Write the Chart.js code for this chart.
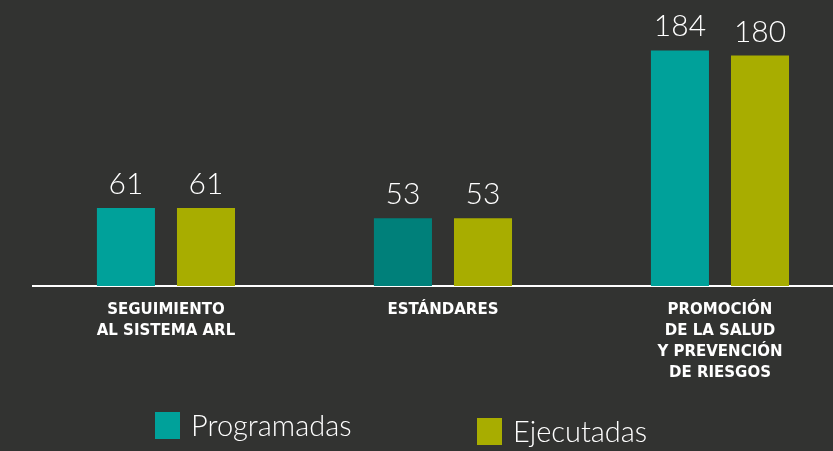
<!DOCTYPE html>
<html>
<head>
<meta charset="utf-8">
<script src="https://cdn.jsdelivr.net/npm/chart.js@4"></script>
<style>
  html, body { margin: 0; padding: 0; background: #323331; overflow: hidden; }
</style>
</head>
<body>
<canvas id="barChart" width="833" height="451"></canvas>
<script>
const categories = [
  ['SEGUIMIENTO', 'AL SISTEMA ARL'],
  ['ESTÁNDARES'],
  ['PROMOCIÓN', 'DE LA SALUD', 'Y PREVENCIÓN', 'DE RIESGOS']
];
const programadas = [61, 53, 184];
const ejecutadas = [61, 53, 180];
const seriesNames = ['Programadas', 'Ejecutadas'];

const teal = '#00a19a';
const darkTeal = '#00807a';
const olive = '#a8ad00';

// numbers above each bar
const valueLabels = {
  id: 'valueLabels',
  afterDatasetsDraw(chart) {
    const ctx = chart.ctx;
    ctx.save();
    ctx.fillStyle = '#ffffff';
    ctx.font = '300 30px Lato';
    ctx.textAlign = 'center';
    ctx.textBaseline = 'alphabetic';
    chart.data.datasets.forEach((ds, d) => {
      chart.getDatasetMeta(d).data.forEach((bar, i) => {
        ctx.fillText(ds.data[i].y, bar.x, bar.y - 14);
      });
    });
    ctx.restore();
  }
};

// legend drawn by hand, items sit at slightly different heights
const sideLegend = {
  id: 'sideLegend',
  afterDraw(chart) {
    const ctx = chart.ctx;
    const spots = [{ x: 155, y: 412 }, { x: 477, y: 418 }];
    ctx.save();
    ctx.font = '300 29px Lato';
    ctx.textBaseline = 'alphabetic';
    chart.data.datasets.forEach((ds, d) => {
      const p = spots[d];
      ctx.fillStyle = ds.legendColor;
      ctx.fillRect(p.x, p.y, 25, 27);
      ctx.fillStyle = '#ffffff';
      ctx.fillText(ds.label, p.x + 36, p.y + 24);
    });
    ctx.restore();
  }
};

new Chart(document.getElementById('barChart'), {
  type: 'bar',
  data: {
    datasets: [
      {
        label: seriesNames[0],
        data: programadas.map((v, i) => ({ x: i, y: v })),
        backgroundColor: [teal, darkTeal, teal],
        legendColor: teal
      },
      {
        label: seriesNames[1],
        data: ejecutadas.map((v, i) => ({ x: i, y: v })),
        backgroundColor: olive,
        legendColor: olive
      }
    ]
  },
  options: {
    responsive: false,
    animation: false,
    devicePixelRatio: 1,
    categoryPercentage: 0.578,
    barPercentage: 0.725,
    layout: { padding: { top: 30, left: 33, right: 0, bottom: 0 } },
    plugins: {
      legend: { display: false },
      tooltip: { enabled: false }
    },
    scales: {
      x: {
        type: 'linear',
        offset: false,
        min: -0.48,
        max: 2.408,
        grid: { display: false },
        border: { display: true, color: '#ffffff', width: 2 },
        afterBuildTicks: (axis) => { axis.ticks = categories.map((c, i) => ({ value: i })); },
        afterFit: (axis) => { axis.height = 165; },
        ticks: {
          autoSkip: false,
          maxRotation: 0,
          padding: 5,
          color: '#ffffff',
          font: { family: 'DejaVu Sans', size: 15, weight: 'bold', lineHeight: 1.42 },
          callback: (value) => categories[value]
        }
      },
      y: {
        display: false,
        min: 0,
        max: 200
      }
    }
  },
  plugins: [valueLabels, sideLegend]
});
</script>
</body>
</html>
